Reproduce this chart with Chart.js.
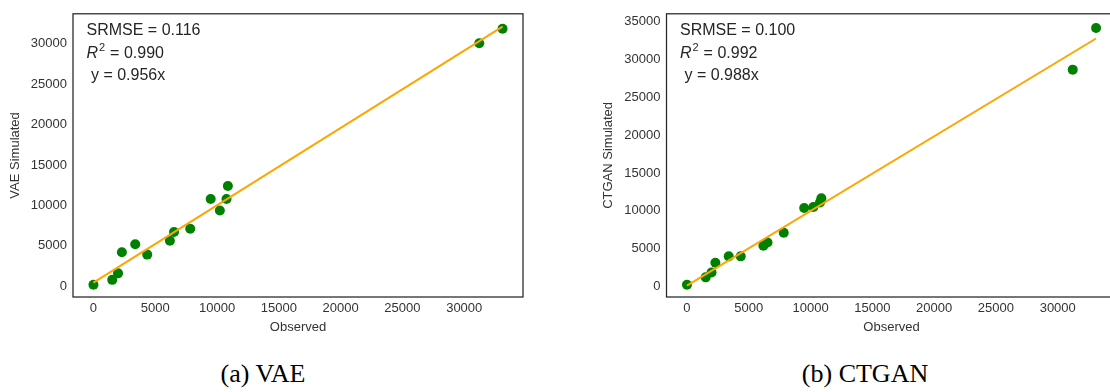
<!DOCTYPE html>
<html>
<head>
<meta charset="utf-8">
<script src="https://cdn.jsdelivr.net/npm/chart.js@4.4.1/dist/chart.umd.min.js"></script>
<style>
  html, body { margin: 0; padding: 0; background: #fff; overflow: hidden; }
  body { width: 1110px; height: 392px; position: relative; }
  .panel { position: absolute; top: 0; height: 340px; }
  .caption {
    position: absolute; top: 359px; font-family: "Liberation Serif", "Times New Roman", serif;
    font-size: 26px; color: #000; white-space: nowrap; transform: translateX(-50%);
  }
</style>
</head>
<body>
<div class="panel" id="panelA" style="left:0; width:560px;"><canvas id="vae"></canvas></div>
<div class="panel" id="panelB" style="left:598px; width:530px;"><canvas id="ctgan"></canvas></div>
<div class="caption" style="left:263px;">(a) VAE</div>
<div class="caption" style="left:865px;">(b) CTGAN</div>
<script>
// Observed vs simulated values for each generator
const observed       = [0, 1520, 1990, 2300, 3380, 4350, 6185, 6520, 7830, 9485, 10225, 10765, 10875, 31215, 33100];
const vaeSimulated   = [200, 800, 1600, 4200, 5200, 3920, 5640, 6720, 7120, 10800, 9360, 10800, 12400, 30040, 31840];
const ctganSimulated = [200, 1190, 1830, 3120, 3970, 3970, 5380, 5810, 7090, 10380, 10510, 11110, 11670, 28680, 34190];

// Fitted lines
const vaeFit   = { slope: 0.956, intercept: 450 };
const ctganFit = { slope: 0.988, intercept: 100 };

// Summary statistics shown in each panel
const vaeStats   = { srmse: "0.116", r2: "0.990", eq: "0.956" };
const ctganStats = { srmse: "0.100", r2: "0.992", eq: "0.988" };

// Tick values
const xTicks      = [0, 5000, 10000, 15000, 20000, 25000, 30000];
const vaeYTicks   = [0, 5000, 10000, 15000, 20000, 25000, 30000];
const ctganYTicks = [0, 5000, 10000, 15000, 20000, 25000, 30000, 35000];

const TEXT = '#333333';
const EDGE = '#262626';
const SANS = '"Liberation Sans", Arial, sans-serif';

function fitLine(fit) {
  const xs = [Math.min(...observed), Math.max(...observed)];
  return xs.map(x => ({ x, y: fit.intercept + fit.slope * x }));
}

const frame = {
  id: 'frame',
  afterDraw(chart) {
    const { ctx, chartArea: a } = chart;
    ctx.save();
    ctx.strokeStyle = EDGE;
    ctx.lineWidth = 1.25;
    ctx.strokeRect(a.left, a.top, a.right - a.left, a.bottom - a.top);
    ctx.restore();
  }
};

const statsBox = {
  id: 'statsBox',
  afterDraw(chart, args, opts) {
    const { ctx, chartArea: a } = chart;
    const s = opts.stats;
    const x = a.left + 13.5;
    ctx.save();
    ctx.fillStyle = EDGE;
    ctx.textBaseline = 'alphabetic';
    ctx.textAlign = 'left';
    ctx.font = '16px ' + SANS;
    ctx.fillText('SRMSE = ' + s.srmse, x, a.top + 21);
    // R² line
    let cx = x;
    ctx.font = 'italic 16px ' + SANS;
    ctx.fillText('R', cx, a.top + 44.3);
    cx += ctx.measureText('R').width + 1;
    ctx.font = '11px ' + SANS;
    ctx.fillText('2', cx, a.top + 37.5);
    cx += ctx.measureText('2').width + 0.5;
    ctx.font = '16px ' + SANS;
    ctx.fillText(' = ' + s.r2, cx, a.top + 44.3);
    ctx.fillText(' y = ' + s.eq + 'x', x, a.top + 65.7);
    ctx.restore();
  }
};

function makeChart(id, simulated, fit, yTicks, yTitle, stats, lim, g) {
  const points = observed.map((x, i) => ({ x, y: simulated[i] }));
  return new Chart(document.getElementById(id), {
    type: 'scatter',
    data: {
      datasets: [
        {
          data: fitLine(fit), showLine: true, pointRadius: 0,
          borderColor: '#FFA500', borderWidth: 2, order: 0
        },
        {
          data: points, pointRadius: 5, pointHoverRadius: 5,
          backgroundColor: '#008000', borderColor: '#008000', borderWidth: 0, order: 1
        }
      ]
    },
    options: {
      responsive: true,
      maintainAspectRatio: false,
      animation: false,
      events: [],
      layout: { padding: { left: 0, top: g.top, right: g.width - g.right, bottom: 0 } },
      plugins: {
        legend: { display: false },
        tooltip: { enabled: false },
        statsBox: { stats }
      },
      scales: {
        x: {
          type: 'linear', min: lim.xMin, max: lim.xMax,
          grid: { display: false, drawTicks: false },
          border: { display: false },
          afterBuildTicks(scale) { scale.ticks = xTicks.map(v => ({ value: v })); },
          afterFit(scale) { scale.height = g.height - g.bottom; },
          ticks: {
            padding: 4, maxRotation: 0, autoSkip: false, color: TEXT,
            font: { family: SANS, size: 13 },
            callback: v => String(v)
          },
          title: {
            display: true, text: 'Observed', color: TEXT,
            font: { family: SANS, size: 13 }, padding: { top: 0, bottom: 4.7 }
          }
        },
        y: {
          type: 'linear', min: lim.yMin, max: lim.yMax,
          grid: { display: false, drawTicks: false },
          border: { display: false },
          afterBuildTicks(scale) { scale.ticks = yTicks.map(v => ({ value: v })); },
          afterFit(scale) { scale.width = g.left; },
          ticks: {
            padding: 6, autoSkip: false, color: TEXT,
            font: { family: SANS, size: 13 },
            callback: v => String(v)
          },
          title: {
            display: true, text: yTitle, color: TEXT,
            font: { family: SANS, size: 13 }, padding: { top: g.titlePad, bottom: 0 }
          }
        }
      }
    },
    plugins: [frame, statsBox]
  });
}

makeChart('vae', vaeSimulated, vaeFit, vaeYTicks, 'VAE Simulated', vaeStats,
  { xMin: -1655, xMax: 34755, yMin: -1320, yMax: 33680 },
  { left: 73, right: 523, top: 5, bottom: 297, width: 560, height: 340, titlePad: 7.2 });

makeChart('ctgan', ctganSimulated, ctganFit, ctganYTicks, 'CTGAN Simulated', ctganStats,
  { xMin: -1655, xMax: 34755, yMin: -1410, yMax: 36070 },
  { left: 68.5, right: 518.5, top: 5, bottom: 297, width: 530, height: 340, titlePad: 2.5 });
</script>
</body>
</html>
